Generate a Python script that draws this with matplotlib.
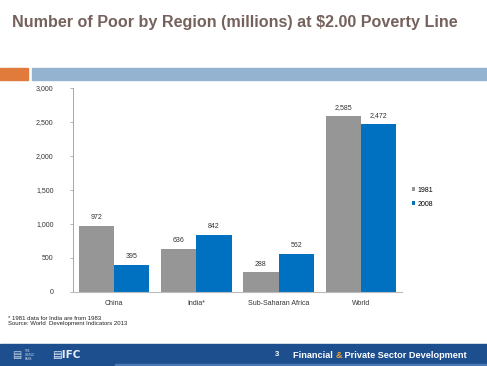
import matplotlib
matplotlib.use("Agg")
import matplotlib.pyplot as plt
import numpy as np
from matplotlib.patches import Rectangle

regions = ["China", "India*", "Sub-Saharan Africa", "World"]
poor_1981 = [972, 636, 288, 2585]
poor_2008 = [395, 842, 562, 2472]
years = ["1981", "2008"]
y_ticks = [0, 500, 1000, 1500, 2000, 2500, 3000]

gray = "#969696"
blue = "#0070c0"

plt.rcParams["font.family"] = ["Liberation Sans", "DejaVu Sans"]

fig = plt.figure(figsize=(4.87, 3.66), dpi=100)

# title
fig.text(12 / 487, 1 - 23 / 366, "Number of Poor by Region (millions) at $2.00 Poverty Line",
         fontsize=11.6, fontweight="bold", color="#76625c", ha="left", va="center")

# decorative bars under title
fig.patches.append(Rectangle((0, 1 - 80 / 366), 28 / 487, 12 / 366,
                             transform=fig.transFigure, color="#e07b3c"))
fig.patches.append(Rectangle((32 / 487, 1 - 80 / 366), 455 / 487, 12 / 366,
                             transform=fig.transFigure, color="#93b3d1"))

# chart
ax = fig.add_axes([73 / 487, 1 - 292 / 366, 329 / 487, 204 / 366])
x = np.arange(len(regions))
w = 0.43
b1 = ax.bar(x - w / 2, poor_1981, w, color=gray, label=years[0])
b2 = ax.bar(x + w / 2, poor_2008, w, color=blue, label=years[1])
for bars in (b1, b2):
    for rect in bars:
        h = rect.get_height()
        ax.text(rect.get_x() + rect.get_width() / 2, h + 70, f"{h:,.0f}",
                ha="center", va="bottom", fontsize=5, color="#333333")

ax.set_xlim(-0.5, 3.5)
ax.set_ylim(0, 3000)
ax.set_yticks(y_ticks)
ax.set_yticklabels([f"{v:,}" for v in y_ticks], fontsize=5, color="#333333")
ax.set_xticks(x)
ax.set_xticklabels(regions, fontsize=5, color="#333333")
ax.tick_params(axis="x", length=0, pad=6)
ax.tick_params(axis="y", length=2, width=0.5, color="#999999", pad=12)
for s in ("top", "right"):
    ax.spines[s].set_visible(False)
ax.spines["left"].set_color("#999999")
ax.spines["left"].set_linewidth(0.6)
ax.spines["bottom"].set_color("#bbbbbb")
ax.spines["bottom"].set_linewidth(0.8)

leg = ax.legend(loc="center left", bbox_to_anchor=(1.01, 0.465), frameon=False,
                fontsize=5, handlelength=0.5, handleheight=0.5, handletextpad=0.4,
                labelspacing=1.0)

# footnotes
fig.text(8 / 487, 1 - 318 / 366, "* 1981 data for India are from 1983",
         fontsize=4.3, color="#222222", ha="left", va="center")
fig.text(8 / 487, 1 - 324 / 366, "Source: World  Development Indicators 2013",
         fontsize=4.3, color="#222222", ha="left", va="center")

# footer band
fig.patches.append(Rectangle((0, 0), 1, 22 / 366, transform=fig.transFigure,
                             color="#1d4f8f"))
fig.patches.append(Rectangle((115 / 487, 0), 372 / 487, 2 / 366,
                             transform=fig.transFigure, color="#4a79b3"))
fig.text(12 / 487, 11 / 366, "▤", fontsize=7, color="#c8d4e6", ha="left", va="center",
         family=["DejaVu Sans"])
fig.text(25 / 487, 11 / 366, "THE\nWORLD\nBANK", fontsize=2, color="#c8d4e6",
         ha="left", va="center", linespacing=1.0)
fig.text(52 / 487, 11 / 366, "▤IFC", fontsize=7.5, color="#e8eef7", fontweight="bold",
         ha="left", va="center", family=["DejaVu Sans"])
fig.text(277 / 487, 11 / 366, "3", fontsize=5.5, color="white", fontweight="bold",
         ha="center", va="center")
fig.text(293 / 487, 11 / 366, "Financial ", fontsize=6.6, color="white", fontweight="bold",
         ha="left", va="center")
t = fig.texts[-1]
fig.canvas.draw()
bb = t.get_window_extent()
x_amp = bb.x1 / fig.bbox.width
fig.text(x_amp, 11 / 366, "&", fontsize=6.6, color="#f0a030", fontweight="bold",
         ha="left", va="center")
bb2 = fig.texts[-1].get_window_extent()
fig.text(bb2.x1 / fig.bbox.width, 11 / 366, " Private Sector Development", fontsize=6.6,
         color="white", fontweight="bold", ha="left", va="center")

fig.savefig("out.png", dpi=100)
